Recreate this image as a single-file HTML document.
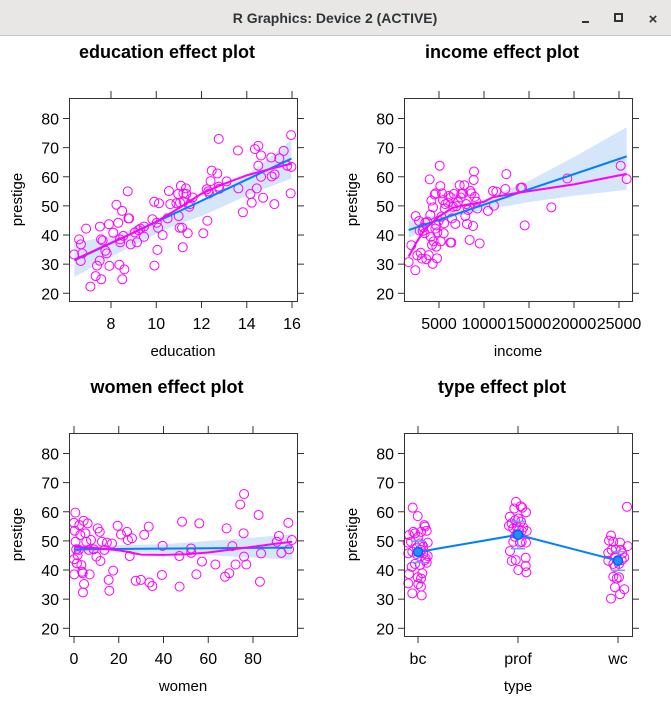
<!DOCTYPE html>
<html><head><meta charset="utf-8"><style>
html,body{margin:0;padding:0;background:#fff;}
svg{display:block;font-family:"Liberation Sans",Arial,sans-serif;}
</style></head><body>
<svg id="s" width="671" height="707" viewBox="0 0 671 707" xmlns="http://www.w3.org/2000/svg">
<rect x="0" y="0" width="671" height="36" fill="#e8e7e6"/>
<line x1="0" y1="35.5" x2="671" y2="35.5" stroke="#c8c6c4"/>
<text x="335" y="23" text-anchor="middle" font-size="14" font-weight="bold" fill="#2e3436">R Graphics: Device 2 (ACTIVE)</text>
<line x1="582" y1="22" x2="589" y2="22" stroke="#2e3436" stroke-width="2"/>
<rect x="615" y="14" width="7" height="7" fill="none" stroke="#2e3436" stroke-width="2"/>
<text x="653" y="24" text-anchor="middle" font-size="15" font-weight="bold" fill="#2e3436">×</text>
<g id="plots"></g>
</svg>
<script>
// education panel
const eduX=[6.37,6.59,6.67,6.66,6.73,6.90,7.09,7.32,7.38,7.50,7.51,7.57,7.56,7.63,7.75,7.81,7.91,7.93,8.10,8.24,8.32,8.37,8.40,8.41,8.49,8.50,8.54,8.59,8.74,8.77,8.80,8.87,9.05,9.15,9.21,9.30,9.46,9.46,9.83,9.91,9.92,10.02,10.05,10.08,10.12,10.28,10.50,10.56,10.62,10.89,10.97,10.99,11.03,11.09,11.14,11.17,11.21,11.31,11.33,11.39,11.46,11.49,11.61,12.08,12.26,12.30,12.34,12.40,12.45,12.70,12.76,12.76,13.11,13.61,13.63,13.83,14.16,14.22,14.36,14.44,14.51,14.51,14.63,14.63,14.72,15.08,15.10,15.22,15.23,15.44,15.63,15.94,15.96,15.97,15.79,12.23,12.79,11.05,11.20];
const eduY=[33.3,38.5,36.8,31.1,33.7,42.2,22.3,25.9,29.5,31.2,42.9,24.8,38.5,38.1,34.6,33.7,43.7,29.4,40.8,50.4,44.2,29.8,38.5,37.5,48.3,24.8,39.7,28.2,55,45.7,45.7,36.8,40.9,37.5,41.7,42.2,39.4,42.9,45.4,51.4,29.5,44.2,34.9,42.5,50.9,40,45.7,55.1,50.6,50.9,54.1,46.5,42.5,56.9,42.5,35.8,51.5,56,54.1,40.6,49.7,50.6,52.9,40.6,44.9,55,54.3,58.5,62.1,61.1,73,56.6,58.4,69,56,47.8,54.1,51.1,69.5,56,63.8,70.6,67.3,60,52.8,66.6,60.1,50.6,60.8,66.3,68.9,54.3,74.3,63.4,63.8,55.7,55.9,51.1,54.3];
const eduFitX=[6.38,15.97]; const eduFitY=[31.3,66.2];
const eduBandX=[6.38,8,10,10.8,12,14,15.97];
const eduBandLo=[25.6,32.5,40.5,43.3,46.5,53.5,59.4];
const eduBandHi=[37.2,39.8,44.8,47.3,51.5,60.5,72.6];
const eduLoX=[6.38,8,9,10,11,12,13,14,15,15.97];
const eduLoY=[31.5,37.3,40.8,44.6,49.2,54.2,57.6,60.5,62.6,64.5];
// income panel
const incX=[1629,1926,2407,2370,2592,2778,2852,2963,3111,3185,3259,3407,3481,3593,3704,3852,3963,4037,4074,4148,4222,4296,4333,4407,4518,4593,4630,4704,4704,4778,4815,4963,5074,5148,5185,5259,5333,5444,5518,5556,5630,5704,6000,6074,6259,6296,6370,6444,6556,6667,6815,6926,7111,7296,7407,7482,7667,7815,7926,8037,8111,8222,8407,8482,8593,8778,8852,8889,8963,9148,9259,9519,10444,11000,11111,11370,12482,12370,14074,14222,14519,17482,19259,25185,25852];
const incY=[30.7,36.5,46.5,27.9,33.0,44.8,41.5,33.9,31.9,41.4,42.6,40.6,44.2,31.7,44.6,33.1,59.1,46.9,39.4,51.8,36.6,30.1,49.5,37.8,53.9,42.2,54.3,43.3,36.0,32.0,40.9,44.9,63.8,56.8,37.8,46.3,54.3,52.0,40.6,44.0,49.1,50.6,51.1,53.4,37.4,52.9,37.4,45.7,49.7,54.1,43.8,49.9,51.4,57.1,52.9,54.1,54.3,57.1,46.5,50.6,43.8,48.6,38.3,55.1,54.3,43.1,58.9,61.8,53.1,51.4,49.1,37.1,48.3,55.1,50.1,54.9,60.9,55.8,56.2,56.3,43.3,49.5,59.4,63.8,59.2];
const incFitX=[1629,25852]; const incFitY=[41.7,67.0];
const incBandX=[1629,4000,6800,10000,15000,20000,25852];
const incBandLo=[38.9,43.2,46.3,48.5,51.3,53.5,55.5];
const incBandHi=[44.8,46.4,48.9,52.2,58.6,66.8,77.0];
const incLoX=[1629,2500,3500,5000,6500,8000,10000,11000,14000,20000,25852];
const incLoY=[32.6,37.5,42.2,46.4,49.3,50.4,51.4,53.0,54.6,57.4,61.0];
// women panel
const womX=[0.1,0.6,0,0.3,0.7,1.0,0,1.3,1.6,2.1,2.4,2.8,3.3,3.6,3.9,4.0,4.3,4.5,5.1,5.5,6.1,6.6,7.0,7.6,8.8,10.0,10.6,11.5,11.8,12.5,13.6,14.7,15.5,15.8,17.0,17.5,19.5,21.0,23.7,24.1,24.9,25.9,27.6,29.9,31.4,33.4,33.7,35.0,39.3,39.6,47.1,47.2,48.3,52.3,52.4,54.7,56.0,57.2,63.2,67.5,68.2,69.4,70.8,72.2,74.3,75.8,76.0,76.0,77.0,82.5,83.1,83.6,90.6,91.6,92.7,95.8,96.1,97.4];
const womY=[38.5,59.7,56.2,53.5,49.7,47.1,43.7,42.3,45.1,46.9,55.4,52,41.7,39.4,38.9,32.3,56.9,35.2,52.6,49.7,56,46.9,38.5,50.3,47.1,44.6,54.3,53.1,43.1,49.7,46.9,49.4,36.6,32.9,49.1,39.8,55.2,52.2,53.1,50.3,44.8,50.9,36.3,36.6,52.1,54.9,35.7,34.5,38.3,48.3,44.8,34.3,56.6,47.4,45.9,38.5,56,42.9,41.9,37.7,54.3,38.9,48.2,41.9,62.5,52.6,66.1,44.6,41.9,58.9,36,45.7,49.7,51.7,45.9,56.2,47.1,50.3];
const womFitX=[0,97.5]; const womFitY=[47.1,47.7];
const womBandX=[0,15,40,70,97.5];
const womBandLo=[45.3,46.3,45.9,44.7,43.5];
const womBandHi=[49.0,48.4,48.9,50.5,52.3];
const womLoX=[0,10,20,30,40,50,60,70,80,90,97.5];
const womLoY=[48.0,47.5,46.8,45.3,45.2,45.4,46.0,47.0,48.0,49.0,49.7];
// type panel
const typeCats=["bc","prof","wc"];
const typeEff=[46.2,52.1,43.2];
const typeLo=[42.6,47.3,39.9];
const typeHi=[49.9,56.7,46.3];
const typePtCat=[0,0,0,0,0,0,0,0,0,0,0,0,0,0,0,0,0,0,0,0,0,0,0,0,0,0,0,0,0,0,0,0,0,0,0,0,0,0,1,1,1,1,1,1,1,1,1,1,1,1,1,1,1,1,1,1,1,1,1,1,1,1,1,1,1,1,1,1,2,2,2,2,2,2,2,2,2,2,2,2,2,2,2,2,2,2,2,2,2,2,2,2,2,2];
const typePtJit=[-0.053,-0.003,-0.09,-0.047,-0.03,0.003,0.03,0.063,0.07,0.087,-0.103,-0.07,0.02,0.043,0.097,-0.097,-0.057,-0.013,0.03,0.053,0.097,0.07,-0.063,-0.09,-0.03,0.02,0.043,0.087,-0.003,0.03,-0.097,0.003,0.03,-0.057,0.037,-0.013,0.053,0.077,
-0.02,-0.037,0.027,0.043,0.08,-0.08,-0.063,-0.03,0.003,0.03,-0.09,-0.047,-0.013,0.01,0.037,0.053,0.087,-0.03,-0.013,0.037,0.08,-0.047,-0.08,-0.063,-0.023,0.02,0.003,0.077,0.077,0.083,
-0.07,-0.09,-0.047,0.02,-0.097,-0.063,-0.023,0.043,-0.097,-0.047,-0.003,0.037,0.063,-0.03,0.01,-0.047,-0.013,0.01,-0.03,0.063,0.02,-0.07,0.097,0.09,0.03,-0.03];
const typePtY=[61.4,58.5,52.0,53.1,52.6,51.4,53.1,55.4,54.9,53.5,49.4,49.7,49.1,48.6,49.4,45.7,46.3,45.5,46.9,45.7,44.8,43.4,41.1,38.6,42.1,41.7,38.9,42.5,37.5,37.1,35.4,35.2,34.3,32.0,31.3,47.7,48.0,44.0,
63.4,61.1,61.9,61.4,59.8,58.3,56.0,57.1,57.7,56.6,55.2,54.3,54.9,53.7,53.5,54.6,53.4,51.4,52.3,49.7,49.4,49.7,46.5,43.1,43.4,49.4,40.0,44.2,41.4,39.2,
51.8,50.1,49.7,49.4,45.9,46.9,47.1,45.7,43.2,42.1,43.4,43.4,44.3,41.1,42.1,37.7,37.1,37.5,34.1,33.4,31.7,30.2,48.2,61.7,46.9,44.6];
const yTicks=[20,30,40,50,60,70,80];

const NS="http://www.w3.org/2000/svg";
const root=document.getElementById('plots');
function mk(tag,attrs,parent,text){const e=document.createElementNS(NS,tag);for(const k in attrs)e.setAttribute(k,attrs[k]);if(text!==undefined)e.textContent=text;(parent||root).appendChild(e);return e;}
function panel(o){
  const g=mk('g',{});
  
  
  const bx=o.bx,by=o.by,bw=228,bh=203;
  const yS=v=>by+20.5+(80-v)*2.913;
  const t=mk('text',{x:bx+bw/2-(o.titleShift||0),y:by-40,'text-anchor':'middle','font-size':18,'font-weight':'bold',fill:'#000'},g,o.title);
  
  
  if(o.bandX){
    let d='';o.bandX.forEach((v,i)=>{d+=(i?'L':'M')+o.xS(v)+' '+yS(o.bandHi[i]);});
    for(let i=o.bandX.length-1;i>=0;i--)d+='L'+o.xS(o.bandX[i])+' '+yS(o.bandLo[i]);
    const b=mk('path',{d:d+'Z',fill:'#d5e6fa',stroke:'none'},g);
    
    
  }
  o.px.forEach((v,i)=>{
    const c=mk('circle',{cx:o.xS(v),cy:yS(o.py[i]),r:4.5,fill:'none',stroke:'#ff00ff','stroke-width':1},g);
    
    
  });
  if(o.fitX){
    const l=mk('polyline',{points:o.fitX.map((v,i)=>o.xS(v)+','+yS(o.fitY[i])).join(' '),fill:'none',stroke:'#0080ff','stroke-width':2},g);
    
    
  }
  if(o.loX){
    const l=mk('polyline',{points:o.loX.map((v,i)=>o.xS(v)+','+yS(o.loY[i])).join(' '),fill:'none',stroke:'#ff00ff','stroke-width':2},g);
    
    
  }
  if(o.extra)o.extra(g,yS);
  const box=mk('rect',{x:bx+0.5,y:by+0.5,width:bw,height:bh,fill:'none',stroke:'#333','stroke-width':1},g);
  
  
  yTicks.forEach(v=>{
    const y=yS(v);
    mk('line',{x1:bx-6,x2:bx,y1:y,y2:y,stroke:'#333'},g);
    mk('line',{x1:bx+bw,x2:bx+bw+7,y1:y,y2:y,stroke:'#333'},g);
    const tl=mk('text',{x:bx-10,y:y+6,'text-anchor':'end','font-size':16,fill:'#000'},g,String(v));
    
    
  });
  o.xt.forEach((v,i)=>{
    const x=o.xS(v);
    mk('line',{x1:x,x2:x,y1:by-7,y2:by,stroke:'#333'},g);
    mk('line',{x1:x,x2:x,y1:by+bh,y2:by+bh+7,stroke:'#333'},g);
    const tl=mk('text',{x:x,y:by+bh+28,'text-anchor':'middle','font-size':16,fill:'#000'},g,o.xl[i]);
    
    
  });
  const xl=mk('text',{x:bx+bw/2,y:by+bh+55,'text-anchor':'middle','font-size':15,fill:'#000'},g,o.xlab);
  
  
  const yl=mk('text',{x:0,y:0,transform:`translate(${bx-47},${by+bh/2}) rotate(-90)`,'text-anchor':'middle','font-size':15,fill:'#000'},g,'prestige');
  
  
}
panel({name:'education',title:'education effect plot',bx:69,by:98,xS:v=>111+(v-8)*22.63,px:eduX,py:eduY,fitX:eduFitX,fitY:eduFitY,bandX:eduBandX,bandLo:eduBandLo,bandHi:eduBandHi,loX:eduLoX,loY:eduLoY,xt:[8,10,12,14,16],xl:['8','10','12','14','16'],xlab:'education',titleShift:16});
panel({name:'income',title:'income effect plot',bx:404,by:98,xS:v=>439+(v-5000)*0.009,px:incX,py:incY,fitX:incFitX,fitY:incFitY,bandX:incBandX,bandLo:incBandLo,bandHi:incBandHi,loX:incLoX,loY:incLoY,xt:[5000,10000,15000,20000,25000],xl:['5000','10000','15000','20000','25000'],xlab:'income',titleShift:16});
panel({name:'women',title:'women effect plot',bx:69,by:433,xS:v=>74+v*2.2375,px:womX,py:womY,fitX:womFitX,fitY:womFitY,bandX:womBandX,bandLo:womBandLo,bandHi:womBandHi,loX:womLoX,loY:womLoY,xt:[0,20,40,60,80],xl:['0','20','40','60','80'],xlab:'women',titleShift:16});
const tX=v=>418+v*100;
panel({name:'type',title:'type effect plot',bx:404,by:433,xS:tX,px:typePtCat.map((c,i)=>c+typePtJit[i]),py:typePtY,xt:[0,1,2],xl:typeCats,xlab:'type',titleShift:16,
 extra:(g,yS)=>{
  const l=mk('polyline',{points:typeEff.map((v,i)=>tX(i)+','+yS(v)).join(' '),fill:'none',stroke:'#0080ff','stroke-width':2},g);
  
  
  typeEff.forEach((v,i)=>{
    const x=tX(i);
    [typeLo[i],typeHi[i]].forEach(w=>mk('line',{x1:x-7,x2:x+7,y1:yS(w),y2:yS(w),stroke:'#5aa8ff','stroke-width':1.5},g));
    mk('line',{x1:x,x2:x,y1:yS(typeLo[i]),y2:yS(typeHi[i]),stroke:'#5aa8ff','stroke-width':1},g);
    const p=mk('circle',{cx:x,cy:yS(v),r:4.5,fill:'#2090ff',stroke:'#0060ff','stroke-width':1.5},g);
    
    
  });
 }});
</script>
</body></html>
